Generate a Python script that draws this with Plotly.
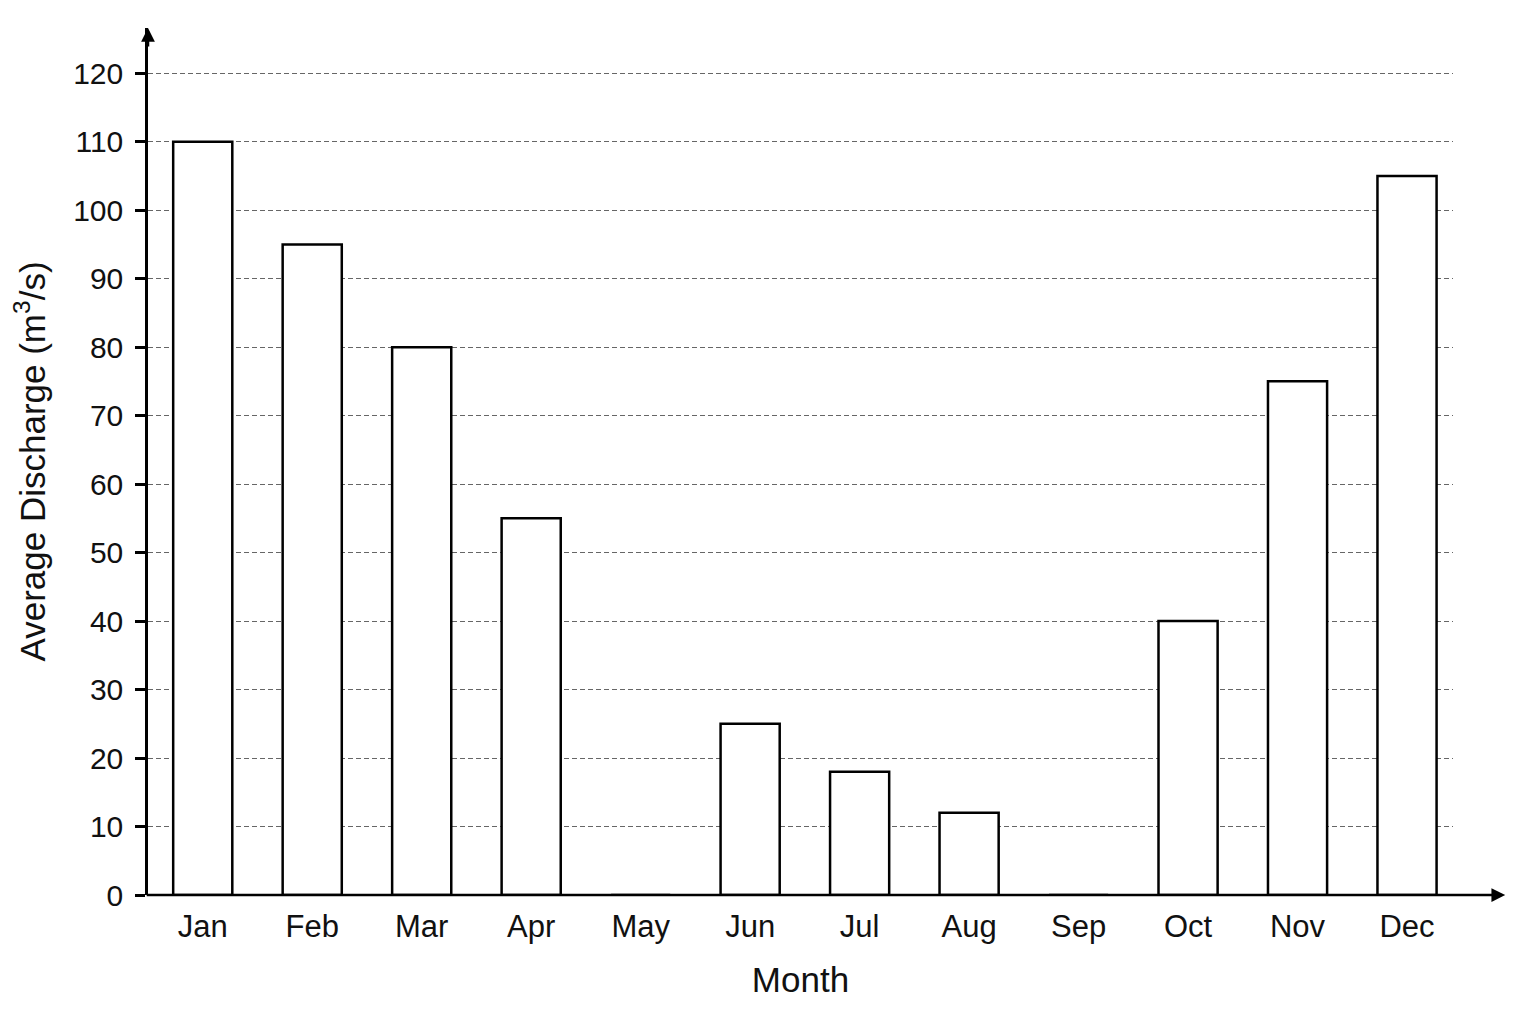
import plotly.graph_objects as go

# monthly average discharge
months = ["Jan", "Feb", "Mar", "Apr", "May", "Jun",
          "Jul", "Aug", "Sep", "Oct", "Nov", "Dec"]
discharge = [110, 95, 80, 55, 0, 25, 18, 12, 0, 40, 75, 105]
y_ticks = list(range(0, 121, 10))

FONT = "Liberation Sans, Arial, sans-serif"

fig = go.Figure()

fig.add_trace(go.Bar(
    x=months,
    y=discharge,
    width=0.54,
    marker=dict(color="white", line=dict(color="black", width=2.5)),
    showlegend=False,
))

# x axis line with arrow past the plot area
fig.add_annotation(
    x=1.04, y=0, xref="paper", yref="y",
    ax=-1360, ay=0, axref="pixel", ayref="pixel",
    showarrow=True, arrowhead=2, arrowsize=1.1, arrowwidth=2.5,
    arrowcolor="black", text="",
)
# y axis arrow tip
fig.add_annotation(
    x=0, y=1.0, xref="paper", yref="paper",
    ax=0, ay=20, showarrow=True, arrowhead=2, arrowsize=1.1,
    arrowwidth=2.5, arrowcolor="black", text="",
)

fig.update_layout(
    width=1536, height=1024,
    margin=dict(l=140, r=91, t=20, b=137),
    paper_bgcolor="white", plot_bgcolor="white",
    font=dict(family=FONT, size=29, color="#111111"),
    xaxis=dict(
        type="category",
        range=[-0.5, 11.42],
        showgrid=False,
        showline=False,
        ticks="",
        tickfont=dict(size=31),
        ticklabelstandoff=10,
        title=dict(text="Month", font=dict(size=35), standoff=24),
        automargin=False,
    ),
    yaxis=dict(
        range=[0, 126.6],
        tickvals=y_ticks,
        showgrid=True,
        gridcolor="#666666",
        griddash="5px,3px",
        gridwidth=1,
        zeroline=False,
        showline=True,
        linecolor="black",
        linewidth=2.5,
        ticks="outside",
        ticklen=10,
        tickwidth=2.5,
        tickcolor="black",
        tickfont=dict(size=30),
        ticklabelstandoff=6,
        title=dict(text="Average Discharge (m<sup>3</sup>/s)",
                   font=dict(size=35), standoff=20),
        automargin=False,
    ),
)

fig.write_html("out.html")
